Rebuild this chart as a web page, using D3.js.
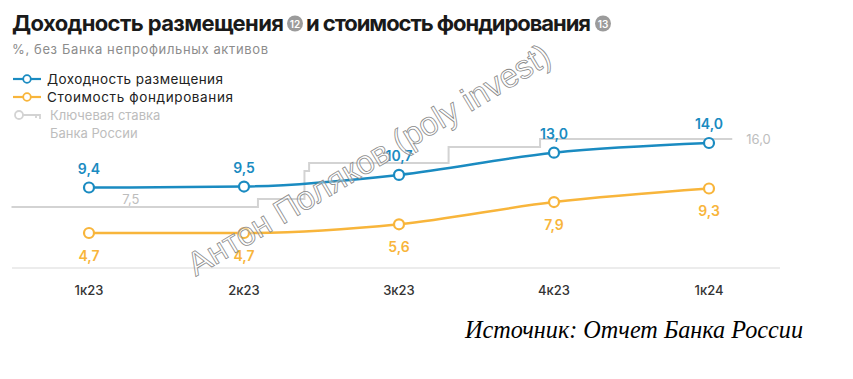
<!DOCTYPE html>
<html>
<head>
<meta charset="utf-8">
<script src="https://cdn.jsdelivr.net/npm/d3@7"></script>
<style>
  body { margin: 0; background: #fff; }
  text { font-family: Inter, "Noto Sans", sans-serif; }
</style>
</head>
<body>
<svg id="chart" width="853" height="379"></svg>
<script>
// data
var quarters = ["1к23", "2к23", "3к23", "4к23", "1к24"];
var placement = [9.4, 9.5, 10.7, 13.0, 14.0];   // Доходность размещения
var funding = [4.7, 4.7, 5.6, 7.9, 9.3];        // Стоимость фондирования
// key rate: position in quarters from 1к23, value
var keyPos = [-0.5, 1.09, 1.39, 1.42, 2.32, 2.91, 4.15];
var keyRate = [7.5, 8.5, 12, 13, 15, 16, 16];

var blue = "#1a8bc1", orange = "#f8b53b", grey = "#d3d3d3", greyText = "#bdbdbd";

var svg = d3.select("#chart");

var x = d3.scalePoint().domain(quarters).range([89, 709]);
var step = x.step();
var xPos = d3.scaleLinear().domain([0, 1]).range([x(quarters[0]), x(quarters[0]) + step]);
var y = d3.scaleLinear().domain([4, 15]).range([239.8, 133.3]);
var yKey = d3.scaleLinear().domain([0, 16]).range([267, 139]);

// title
var title = svg.append("g");
title.append("text").attr("x", 12).attr("y", 31)
  .attr("font-size", 22).attr("font-weight", 700).attr("fill", "#1a1a1a")
  .attr("textLength", 272)
  .text("Доходность размещения");
function badge(cx, n) {
  title.append("circle").attr("cx", cx).attr("cy", 23.5).attr("r", 8).attr("fill", "#9b9b9b");
  title.append("text").attr("x", cx).attr("y", 27.5).attr("text-anchor", "middle")
    .attr("font-size", 10).attr("font-weight", 600).attr("fill", "#fff").text(n);
}
badge(295, "12");
title.append("text").attr("x", 306).attr("y", 31)
  .attr("font-size", 22).attr("font-weight", 700).attr("fill", "#1a1a1a")
  .attr("textLength", 285)
  .text("и стоимость фондирования");
badge(603, "13");

svg.append("text").attr("x", 12).attr("y", 54)
  .attr("font-size", 13).attr("fill", "#8c8c8c")
  .attr("textLength", 256)
  .text("%, без Банка непрофильных активов");

// legend
var legend = [
  {label: "Доходность размещения", color: blue, y: 79, w: 176},
  {label: "Стоимость фондирования", color: orange, y: 97, w: 186}
];
legend.forEach(function(d) {
  svg.append("line").attr("x1", 13).attr("x2", 41).attr("y1", d.y).attr("y2", d.y)
    .attr("stroke", d.color).attr("stroke-width", 2.2);
  svg.append("circle").attr("cx", 27).attr("cy", d.y).attr("r", 3.8)
    .attr("fill", "#fff").attr("stroke", d.color).attr("stroke-width", 1.8);
  svg.append("text").attr("x", 47).attr("y", d.y + 4.5).attr("font-size", 13.5)
    .attr("fill", "#222").attr("textLength", d.w).text(d.label);
});
svg.append("circle").attr("cx", 19).attr("cy", 115).attr("r", 4)
  .attr("fill", "#fff").attr("stroke", grey).attr("stroke-width", 1.8);
svg.append("path").attr("d", "M23,115H40V119M36,115V118").attr("fill", "none")
  .attr("stroke", grey).attr("stroke-width", 1.8);
svg.append("text").attr("x", 50).attr("y", 120).attr("font-size", 13)
  .attr("fill", greyText).text("Ключевая ставка");
svg.append("text").attr("x", 50).attr("y", 138).attr("font-size", 13)
  .attr("fill", greyText).text("Банка России");

// baseline
svg.append("line").attr("x1", 12).attr("x2", 780).attr("y1", 268).attr("y2", 268)
  .attr("stroke", "#ececec").attr("stroke-width", 2);

// x labels
svg.selectAll(".xl").data(quarters).enter().append("text")
  .attr("x", d => x(d)).attr("y", 295).attr("text-anchor", "middle")
  .attr("font-size", 13).attr("font-weight", 500).attr("fill", "#333")
  .text(d => d);

// key rate step line
var keyData = keyPos.map((p, i) => [p, keyRate[i]]);
svg.append("path").datum(keyData)
  .attr("d", d3.line().x(d => xPos(d[0])).y(d => yKey(d[1])).curve(d3.curveStepAfter))
  .attr("fill", "none").attr("stroke", grey).attr("stroke-width", 2);
svg.append("text").attr("x", xPos(0.27)).attr("y", yKey(keyRate[0]) - 3)
  .attr("text-anchor", "middle").attr("font-size", 13).attr("fill", greyText)
  .text(d3.format(".1f")(keyRate[0]).replace(".", ","));
svg.append("text").attr("x", xPos(keyPos[keyPos.length - 1]) + 14).attr("y", yKey(16) + 5)
  .attr("font-size", 13).attr("fill", greyText)
  .text(d3.format(".1f")(16).replace(".", ","));

// series
var fmt = v => d3.format(".1f")(v).replace(".", ",");
var line = d3.line().x((d, i) => x(quarters[i])).y(d => y(d)).curve(d3.curveMonotoneX);

[[funding, orange, 28], [placement, blue, -14]].forEach(function(s) {
  var vals = s[0], col = s[1], off = s[2];
  svg.append("path").datum(vals).attr("d", line)
    .attr("fill", "none").attr("stroke", col).attr("stroke-width", 2.5);
  svg.selectAll(null).data(vals).enter().append("circle")
    .attr("cx", (d, i) => x(quarters[i])).attr("cy", d => y(d)).attr("r", 5)
    .attr("fill", "#fff").attr("stroke", col).attr("stroke-width", 2.2);
  svg.selectAll(null).data(vals).enter().append("text")
    .attr("x", (d, i) => x(quarters[i])).attr("y", d => y(d) + off)
    .attr("text-anchor", "middle").attr("font-size", 14).attr("font-weight", 600)
    .attr("fill", col).text(fmt);
});

// watermark
svg.append("text")
  .attr("transform", "translate(370,162) rotate(-31)")
  .attr("text-anchor", "middle").attr("dominant-baseline", "middle")
  .style("font-family", "'Liberation Sans', Arial, sans-serif")
  .attr("font-size", 33).attr("fill", "rgba(255,255,255,0.4)")
  .attr("stroke", "#8a8a8a").attr("stroke-width", 0.8)
  .text("Антон Поляков (poly invest)");

// source
svg.append("text").attr("x", 803).attr("y", 338).attr("text-anchor", "end")
  .style("font-family", "'Liberation Serif', 'Times New Roman', serif")
  .attr("font-style", "italic").attr("font-size", 25).attr("fill", "#000")
  .attr("textLength", 338).attr("lengthAdjust", "spacingAndGlyphs")
  .text("Источник: Отчет Банка России");
</script>
</body>
</html>
